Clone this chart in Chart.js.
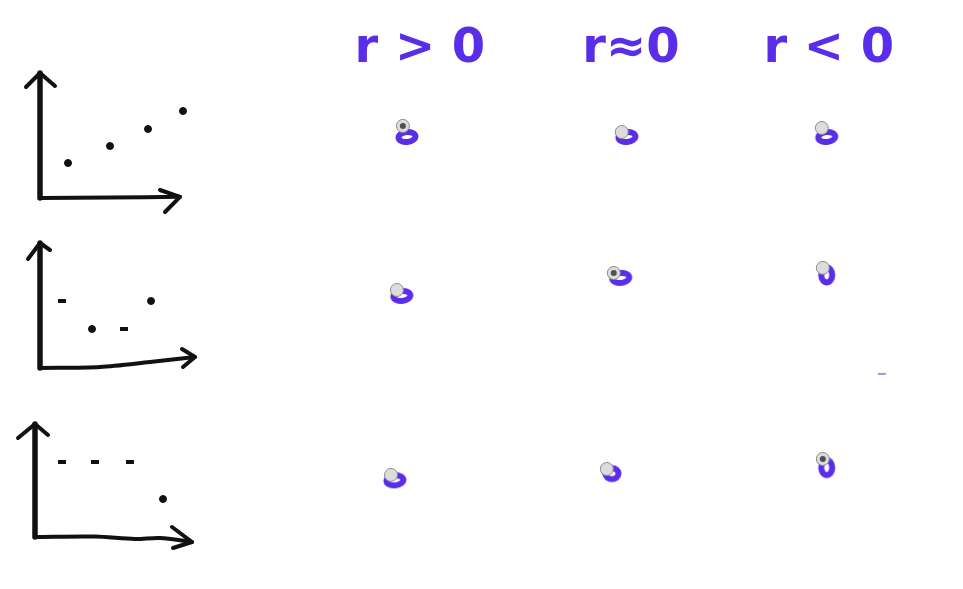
<!DOCTYPE html>
<html><head><meta charset="utf-8">
<script src="https://cdn.jsdelivr.net/npm/chart.js@4.4.1/dist/chart.umd.min.js"></script>
<style>
html,body{margin:0;padding:0;background:#fff;width:963px;height:589px;overflow:hidden}
#wrap{position:relative;width:963px;height:589px;background:#fff}
canvas{position:absolute;display:block}
</style></head><body><div id="wrap">
<canvas id="main" width="963" height="589" style="left:0;top:0;width:963px;height:589px"></canvas>
<canvas id="p1" width="200" height="170" style="left:20px;top:48px;width:200px;height:170px"></canvas>
<canvas id="p2" width="200" height="170" style="left:20px;top:218px;width:200px;height:170px"></canvas>
<canvas id="p3" width="200" height="170" style="left:15px;top:387px;width:200px;height:170px"></canvas>
</div>
<script>
// ---- column headers (correlation cases) ----
const headers = ["r > 0", "r≈0", "r < 0"];
const headerCols = [0, 1.03, 1.995];

// ---- hand-written "o" marks in the 3x3 grid (column units, row units) ----
const markX = [-0.063, 1.01, 1.985, -0.088, 0.98, 1.985, -0.122, 0.937, 1.985];
const markY = [0, 0, 0, 0.935, 0.829, 0.812, 2.02, 1.98, 1.945];
const markShape = ["o", "o", "o", "o", "o", "0", "o", "m", "0"];

// ---- grey radio-button circles over the marks ----
const radioX = [-0.083, 0.985, 1.961, -0.112, 0.946, 1.966, -0.141, 0.912, 1.966];
const radioY = [-0.065, -0.029, -0.053, 0.9, 0.8, 0.77, 1.988, 1.953, 1.894];
const radioSelected = [true, false, false, false, true, false, false, false, true];

// ---- stray pen dash ----
const strayX = [2.254];
const strayY = [1.394];

// ---- mini sketch 1 : positive trend ----
const dots1X = [2.8, 7.0, 10.8, 14.3];
const dots1Y = [3.5, 5.2, 6.9, 8.7];
const yAxis1X = [0, 0];
const yAxis1Y = [0, 12.5];
const yHead1X = [-1.4, 0, 1.5];
const yHead1Y = [11.1, 12.5, 11.2];
const xAxis1X = [0, 7, 14];
const xAxis1Y = [0, 0.05, 0.12];
const xHead1X = [12.0, 14.0, 12.5];
const xHead1Y = [0.8, 0.12, -1.4];

// ---- mini sketch 2 : U shape ----
const dots2X = [2.2, 5.2, 8.4, 11.1];
const dots2Y = [6.7, 3.9, 3.9, 6.7];
const yAxis2X = [0, 0];
const yAxis2Y = [0, 12.5];
const yHead2X = [-1.2, 0, 1.0];
const yHead2Y = [10.9, 12.5, 11.8];
const xAxis2X = [0, 6, 11, 15.5];
const xAxis2Y = [0, 0.1, 0.6, 1.1];
const xHead2X = [14.2, 15.5, 14.3];
const xHead2Y = [1.9, 1.1, 0.1];

// ---- mini sketch 3 : flat then drop ----
const dots3X = [2.7, 6.0, 9.5, 12.8];
const dots3Y = [7.5, 7.5, 7.5, 3.8];
const yAxis3X = [0, 0];
const yAxis3Y = [0, 11.3];
const yHead3X = [-1.7, 0, 1.3];
const yHead3Y = [9.9, 11.3, 10.2];
const xAxis3X = [0, 6, 10, 12.5, 15.7];
const xAxis3Y = [0, 0.05, -0.2, -0.1, -0.5];
const xHead3X = [13.7, 15.7, 13.8];
const xHead3Y = [1.0, -0.5, -1.1];

const PURPLE = "#5a2ee8";
const INK = "#111111";

const zip = (xs, ys) => xs.map((x, i) => ({x, y: ys[i]}));

function ringCanvas(rx, ry, rot, w) {
  const c = document.createElement("canvas");
  c.width = 30; c.height = 30;
  const g = c.getContext("2d");
  g.strokeStyle = PURPLE; g.lineWidth = w;
  g.beginPath(); g.ellipse(15, 15, rx, ry, rot, 0, Math.PI * 2); g.stroke();
  return c;
}
const shapes = {o: ringCanvas(8.5, 5, -0.1, 6), m: ringCanvas(6.5, 5.5, 0, 6), "0": ringCanvas(5.5, 7.5, 0, 6)};

new Chart(document.getElementById("main"), {
  type: "scatter",
  data: {
    datasets: [
      {data: zip(markX, markY), pointStyle: markShape.map(s => shapes[s]), pointRadius: 10, clip: false, order: 4},
      {data: zip(strayX, strayY), pointStyle: "line", pointRadius: 4, borderWidth: 2, borderColor: "rgba(90,46,232,0.55)", clip: false, order: 3},
      {data: zip(radioX, radioY), pointStyle: "circle", pointRadius: 6.5, backgroundColor: "#dcdcdc", borderColor: "#8c8c8c", borderWidth: 1, clip: false, order: 2},
      {data: zip(radioX, radioY).filter((p, i) => radioSelected[i]), pointStyle: "circle", pointRadius: 3, backgroundColor: "#505050", borderColor: "#505050", borderWidth: 0, clip: false, order: 1}
    ]
  },
  options: {
    responsive: false, animation: false, devicePixelRatio: 1,
    layout: {padding: {left: 10, right: 0, top: 0, bottom: 0}, autoPadding: false},
    plugins: {legend: {display: false}, tooltip: {enabled: false}},
    events: [],
    scales: {
      x: {
        type: "linear", position: "top", min: -2, max: 2.65,
        afterBuildTicks: ax => { ax.ticks = headerCols.map(v => ({value: v})); },
        afterFit: ax => { ax.height = 80; },
        ticks: {callback: (v, i) => headers[i], autoSkip: false, maxRotation: 0, padding: 2,
                color: PURPLE, font: {family: "DejaVu Sans", size: 48, weight: "bold"}},
        grid: {display: false, drawTicks: false}, border: {display: false}
      },
      y: {type: "linear", reverse: true, min: -0.335, max: 2.659, display: false}
    }
  }
});

function mini(id, dx, dy, ax, ay, hx, hy, bx, by, ex, ey, dotStyles) {
  const line = (xs, ys, w, t) => ({type: "line", data: zip(xs, ys), borderColor: INK, borderWidth: w,
    pointRadius: 0, tension: t, borderCapStyle: "round", borderJoinStyle: "round", clip: false});
  new Chart(document.getElementById(id), {
    type: "scatter",
    data: {datasets: [
      line(ax, ay, 5.5, 0), line(hx, hy, 4, 0), line(bx, by, 4, 0.3), line(ex, ey, 4, 0),
      {data: zip(dx, dy), pointStyle: dotStyles.map(s => s === "-" ? "line" : "circle"),
       pointRadius: dotStyles.map(s => s === "-" ? 4 : 3.5), borderWidth: dotStyles.map(s => s === "-" ? 4 : 1),
       backgroundColor: INK, borderColor: INK, clip: false}
    ]},
    options: {
      responsive: false, animation: false, devicePixelRatio: 1, events: [],
      layout: {padding: 20, autoPadding: false},
      plugins: {legend: {display: false}, tooltip: {enabled: false}},
      scales: {x: {type: "linear", min: 0, max: 16, display: false},
               y: {type: "linear", min: 0, max: 13, display: false}}
    }
  });
}
mini("p1", dots1X, dots1Y, yAxis1X, yAxis1Y, yHead1X, yHead1Y, xAxis1X, xAxis1Y, xHead1X, xHead1Y, [".", ".", ".", "."]);
mini("p2", dots2X, dots2Y, yAxis2X, yAxis2Y, yHead2X, yHead2Y, xAxis2X, xAxis2Y, xHead2X, xHead2Y, ["-", ".", "-", "."]);
mini("p3", dots3X, dots3Y, yAxis3X, yAxis3Y, yHead3X, yHead3Y, xAxis3X, xAxis3Y, xHead3X, xHead3Y, ["-", "-", "-", "."]);
</script></body></html>
